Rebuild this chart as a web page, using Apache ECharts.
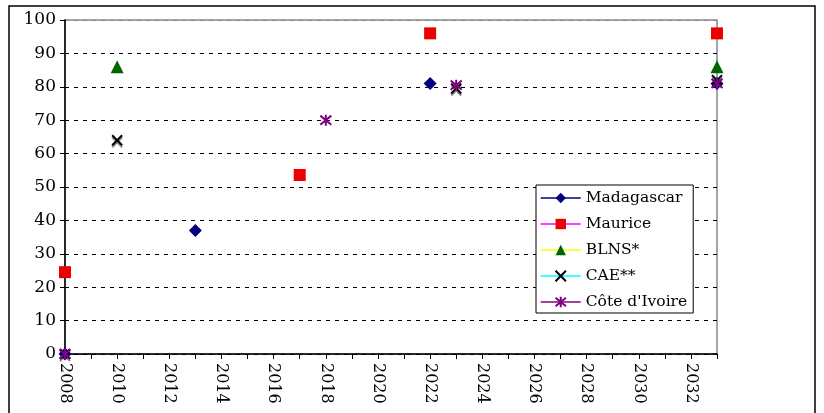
<!DOCTYPE html>
<html>
<head>
<meta charset="utf-8">
<script src="https://cdn.jsdelivr.net/npm/echarts@6/dist/echarts.min.js"></script>
</head>
<body style="margin:0">
<div id="main" style="width:824px;height:413px;"></div>
<script>
var seriesNames = ['Madagascar', 'Maurice', 'BLNS*', 'CAE**', "Côte d'Ivoire"];
var madagascar = [[2008, 0], [2013, 37], [2022, 81], [2033, 81]];
var maurice = [[2008, 24.5], [2017, 53.6], [2022, 96], [2033, 96]];
var blns = [[2010, 86], [2033, 86]];
var cae = [[2008, 0], [2010, 64], [2023, 79.5], [2033, 82]];
var coteIvoire = [[2008, 0], [2018, 70], [2023, 80.5], [2033, 81]];

var xPath = 'path://M0,0L10,10M10,0L0,10';
var starPath = 'path://M0,0L10,10M10,0L0,10M5,-1L5,11';
var font = 'DejaVu Serif';

function mk(name, data, symbol, size, fill, stroke, z) {
  return {
    name: name,
    type: 'line',
    data: data,
    symbol: symbol,
    symbolSize: size,
    showSymbol: true,
    lineStyle: { width: 0, opacity: 0 },
    itemStyle: { color: fill, borderColor: stroke, borderWidth: stroke ? 2 : 0, opacity: 1 },
    z: z || 2
  };
}

var series = [
  mk('Madagascar', madagascar, 'diamond', 13, '#000080', null),
  mk('Maurice', maurice, 'rect', 12, '#ee0000', null),
  mk('BLNS*', blns, 'triangle', 13, '#006400', null),
  mk('CAE**', cae, xPath, 10, 'none', '#000', 3),
  mk("Côte d'Ivoire", coteIvoire, starPath, 11, 'none', '#800080', 4)
];
series[3].itemStyle.shadowColor = 'rgba(0,0,0,0.45)';
series[3].itemStyle.shadowOffsetY = 2;

var legendLines = ['#000080', '#ff00ff', '#ffff00', '#00ffff', '#800080'];

var chart = echarts.init(document.getElementById('main'));
chart.setOption({
  backgroundColor: '#fff',
  animation: false,
  textStyle: { fontFamily: font },
  graphic: [{
    type: 'rect',
    shape: { x: 9, y: 6, width: 806, height: 420 },
    style: { fill: 'none', stroke: '#000', lineWidth: 1.5 },
    silent: true
  }],
  grid: {
    left: 65, right: 107, top: 20, bottom: 59,
    show: true, borderColor: '#888', borderWidth: 1.5
  },
  legend: {
    orient: 'vertical',
    left: 536, top: 185,
    padding: [5, 6, 3, 4],
    itemGap: 10,
    itemWidth: 40, itemHeight: 13,
    backgroundColor: '#fff',
    borderColor: '#000', borderWidth: 1,
    textStyle: { fontFamily: font, fontSize: 15.5, color: '#000' },
    data: seriesNames.map(function (n, i) {
      return { name: n, lineStyle: { color: legendLines[i], width: 1.5, opacity: 1 } };
    })
  },
  xAxis: {
    type: 'value',
    min: 2008, max: 2033, interval: 1,
    axisLine: { lineStyle: { color: '#000', width: 1.5 } },
    axisTick: { show: true, length: 5, lineStyle: { color: '#000' } },
    splitLine: { show: false },
    axisLabel: {
      rotate: -90, margin: 9,
      fontFamily: font, fontSize: 16, color: '#000',
      formatter: function (v) { return (v % 2 === 0 && v < 2033) ? String(v) : ''; }
    }
  },
  yAxis: {
    type: 'value',
    min: 0, max: 100, interval: 10,
    axisLine: { show: true, lineStyle: { color: '#000', width: 1.5 } },
    axisTick: { show: true, length: 5, lineStyle: { color: '#000' } },
    axisLabel: { fontFamily: font, fontSize: 17, color: '#000', margin: 9 },
    splitLine: {
      show: true,
      lineStyle: {
        type: [4, 5],
        color: ['#000', '#000', '#000', '#000', '#000', '#000', '#000', '#000', '#000', '#000', '#888']
      }
    }
  },
  series: series
});
</script>
</body>
</html>
